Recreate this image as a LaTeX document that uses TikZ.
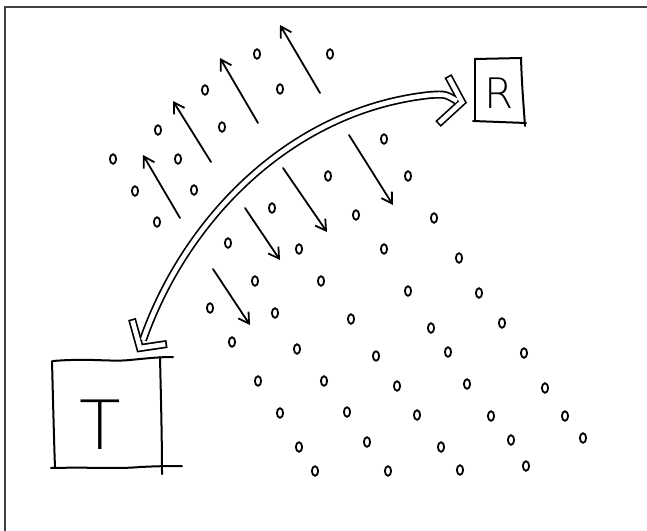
\documentclass[tikz,border=0pt]{standalone}
\usepackage{fontspec}
\newfontfamily\thinfont{DejaVu Sans ExtraLight}
\usetikzlibrary{arrows.meta}
\begin{document}
\begin{tikzpicture}[x=1pt,y=-1pt,
  frame/.style={draw=black!75,line width=1.5pt},
  sketch/.style={draw=black,line width=2pt,line cap=round},
  dotmark/.style={draw=black,line width=1.8pt},
  flow/.style={draw=black,line width=1.8pt,line cap=round,-{Straight Barb[angle=62:12pt,line width=1.8pt]}},
  outerline/.style={draw=black,line width=8pt,line join=miter,line cap=butt},
  innerline/.style={draw=white,line width=4.6pt,line join=miter,line cap=butt},
  letter/.style={inner sep=0pt,text=black}
]
\useasboundingbox (0,0) rectangle (647,530);
% frame (top and left only)
\draw[frame] (5,532) -- (5,7) -- (648,7);

% boxes
\draw[sketch] (53,361) .. controls (90,358) and (110,362) .. (130,360) .. controls (150,358) and (160,357) .. (173,357);
\draw[sketch] (52,361) .. controls (53,400) and (54,440) .. (55,468);
\draw[sketch] (51,468) .. controls (90,467) and (120,469) .. (140,467) .. controls (160,466) and (172,466) .. (182,466);
\draw[sketch] (160,357) .. controls (161,400) and (162,440) .. (162,474);
\node[letter,font=\thinfont\fontsize{68}{68}\selectfont] (T) at (100,425) {T};

\draw[sketch] (475,59) -- (521,58) .. controls (522,90) and (524,110) .. (525,126);
\draw[sketch] (475,59) -- (475,120);
\draw[sketch] (473,121) -- (526,123);
\node[letter,font=\thinfont\fontsize{42}{42}\selectfont] (R) at (499,93) {R};

% big double arrow
\coordinate (tEnd) at (143,340);
\coordinate (rEnd) at (457,101);
\coordinate (tA) at (132,319);
\coordinate (tTip) at (140,348);
\coordinate (tB) at (167,344);
\coordinate (rA) at (448,76);
\coordinate (rTip) at (462,102);
\coordinate (rB) at (438,124);
\draw[outerline] (tEnd) .. controls (185,220) and (290,110) .. (430,95) .. controls (445,94) .. (rEnd);
\draw[outerline] (tA) -- (tTip) -- (tB);
\draw[outerline] (rA) -- (rTip) -- (rB);
\draw[innerline] (tEnd) .. controls (185,220) and (290,110) .. (430,95) .. controls (445,94) .. (rEnd);
\draw[innerline,shorten <=1.7pt,shorten >=1.7pt] (tA) -- (tTip) -- (tB);
\draw[innerline,shorten <=1.7pt,shorten >=1.7pt] (rA) -- (rTip) -- (rB);

% upward flow arrows
\coordinate (u1s) at (180,218); \coordinate (u1e) at (143,155);
\coordinate (u2s) at (211,162); \coordinate (u2e) at (173,101);
\coordinate (u3s) at (258,123); \coordinate (u3e) at (220,58);
\coordinate (u4s) at (320,93);  \coordinate (u4e) at (280,25);
\draw[flow] (u1s) -- (u1e);
\draw[flow] (u2s) -- (u2e);
\draw[flow] (u3s) -- (u3e);
\draw[flow] (u4s) -- (u4e);
% downward flow arrows
\coordinate (d1s) at (349,135); \coordinate (d1e) at (393,205);
\coordinate (d2s) at (283,168); \coordinate (d2e) at (327,232);
\coordinate (d3s) at (245,208); \coordinate (d3e) at (280,260);
\coordinate (d4s) at (213,269); \coordinate (d4e) at (250,325);
\draw[flow] (d1s) -- (d1e);
\draw[flow] (d2s) -- (d2e);
\draw[flow] (d3s) -- (d3e);
\draw[flow] (d4s) -- (d4e);

% particles
\foreach \px/\py in {
  113/159,135/191,157/222,158/130,178/159,194/190,205/90,222/127,257/54,280/89,330/54,
  384/139,408/176,328/176,272/208,356/215,434/218,
  228/243,299/249,384/249,459/258,
  255/281,321/281,408/291,479/293,
  210/308,275/313,351/319,431/328,502/323,
  232/342,297/349,376/356,448/352,524/353,
  258/381,324/381,397/386,467/384,545/388,
  280/413,347/412,417/415,491/416,565/416,
  299/447,367/442,441/447,511/440,583/438,
  315/471,388/471,460/470,526/466}
  \draw[dotmark] (\px,\py) ellipse [x radius=3.1pt,y radius=4.8pt];
\end{tikzpicture}
\end{document}
